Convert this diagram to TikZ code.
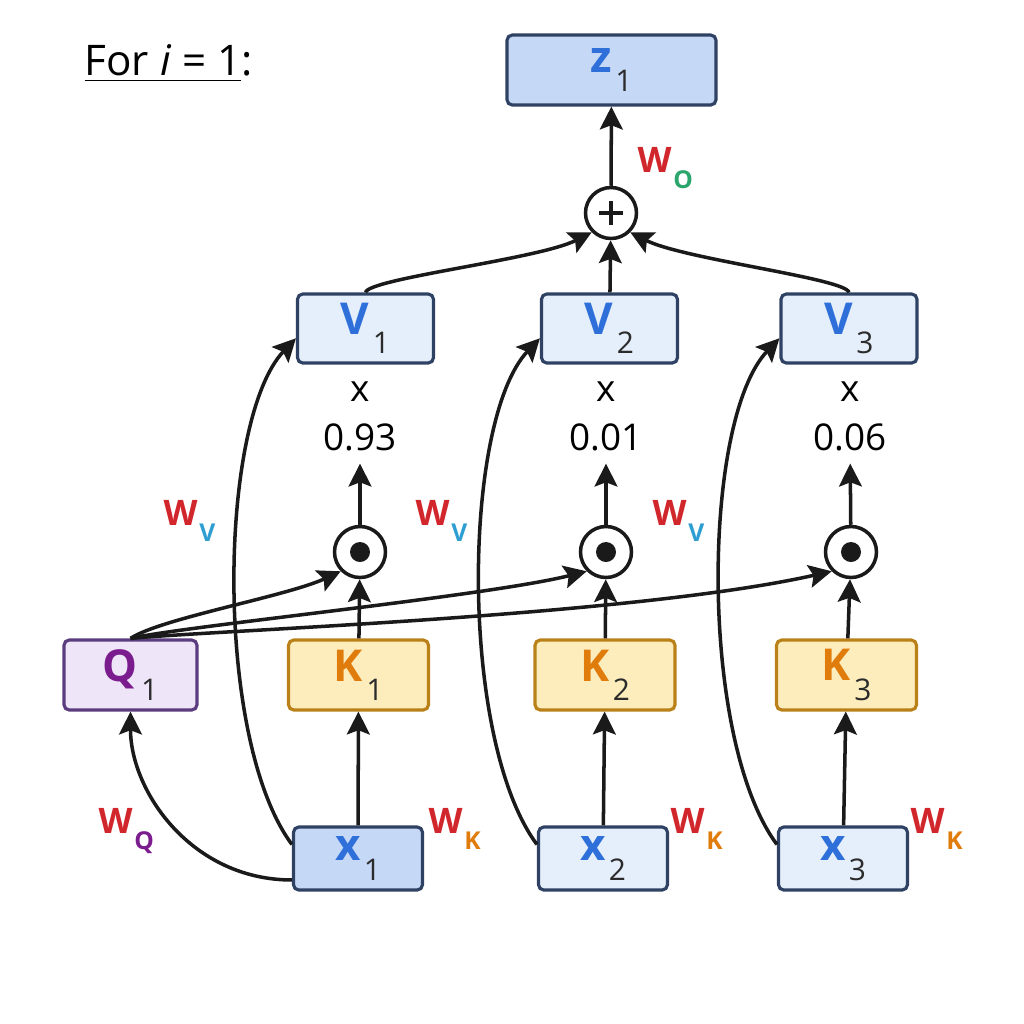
\documentclass[tikz,border=0pt]{standalone}
\usepackage{fontspec}
\setmainfont{Open Sans}
\usepackage{xcolor}
\usetikzlibrary{arrows.meta,positioning,calc}

\definecolor{zfill}{HTML}{C5D8F6}
\definecolor{vfill}{HTML}{E5EFFB}
\definecolor{boxline}{HTML}{2F4263}
\definecolor{qfill}{HTML}{EEE5F8}
\definecolor{qline}{HTML}{5B3C7E}
\definecolor{qtext}{HTML}{7A1C8E}
\definecolor{kfill}{HTML}{FDEDBD}
\definecolor{kline}{HTML}{B98118}
\definecolor{ktext}{HTML}{E07C0B}
\definecolor{btext}{HTML}{2F6FD9}
\definecolor{wred}{HTML}{D1262C}
\definecolor{vsub}{HTML}{2E9ED2}
\definecolor{osub}{HTML}{2AA56C}
\definecolor{subgray}{HTML}{2B2B2B}
\definecolor{linec}{HTML}{1A1A1A}

% box label: coloured letter, grey index set low
\newcommand{\boxlbl}[3]{{\bfseries\color{#1}#2}\kern1pt\raisebox{-5.5pt}{\fontsize{8.5}{9}\selectfont\mdseries\color{subgray}#3}}
% weight label: red W, coloured index
\newcommand{\wlbl}[2]{{\color{wred}W}\kern0.5pt\raisebox{-4.8pt}{\fontsize{7}{8}\selectfont\color{#1}#2}}

\begin{document}
\begin{tikzpicture}[
    box/.style={rectangle, draw=boxline, rounded corners=1.5pt, line width=0.9pt, inner sep=0pt, minimum height=0.70cm, font=\fontsize{12.5}{14}\selectfont},
    zbox/.style={box, fill=zfill, minimum width=2.09cm},
    vbox/.style={box, fill=vfill, minimum width=1.36cm, minimum height=0.69cm},
    qbox/.style={box, draw=qline, fill=qfill, minimum width=1.33cm},
    kbox/.style={box, draw=kline, fill=kfill, minimum width=1.40cm},
    xbox/.style={box, minimum width=1.29cm, minimum height=0.63cm},
    op/.style={circle, draw=linec, line width=1pt, fill=white, inner sep=0pt, minimum size=0.51cm},
    wt/.style={font=\fontsize{10.5}{12}\selectfont, inner sep=1pt},
    wlab/.style={anchor=base west, inner sep=0pt, font=\fontsize{10}{12}\selectfont\bfseries},
    arrow/.style={-{Stealth[length=6.5pt, width=6.5pt, inset=1.2pt]}, line width=1pt, draw=linec}
]
    \useasboundingbox (0,0) rectangle (10.24,-10.24);

    \node[anchor=base west, inner sep=0pt, font=\fontsize{12}{14}\selectfont] (title) at (0.84,-0.75) {\underline{For \textit{i} = 1}:};

    % output
    \node[zbox] (z1) at (6.115,-0.70) {\boxlbl{btext}{z}{1}};
    \node[op] (plus) at (6.11,-2.13) {};
    \draw[line width=1.2pt, linec] ([yshift=-0.12cm]plus.center) -- ([yshift=0.12cm]plus.center);
    \draw[line width=1.2pt, linec] ([xshift=-0.12cm]plus.center) -- ([xshift=0.12cm]plus.center);

    % values
    \node[vbox] (v1) at (3.655,-3.285) {\boxlbl{btext}{V}{1}};
    \node[vbox] (v2) at (6.095,-3.285) {\boxlbl{btext}{V}{2}};
    \node[vbox] (v3) at (8.49,-3.285) {\boxlbl{btext}{V}{3}};

    \node[wt] (m1) at (3.60,-3.92) {x};
    \node[wt] (m2) at (6.06,-3.92) {x};
    \node[wt] (m3) at (8.50,-3.92) {x};
    \node[wt] (a1) at (3.60,-4.37) {0.93};
    \node[wt] (a2) at (6.06,-4.37) {0.01};
    \node[wt] (a3) at (8.50,-4.37) {0.06};

    % scores
    \node[op] (dot1) at (3.60,-5.52) {};
    \node[op] (dot2) at (6.06,-5.52) {};
    \node[op] (dot3) at (8.51,-5.52) {};
    \fill[linec] (dot1) circle (0.1);
    \fill[linec] (dot2) circle (0.1);
    \fill[linec] (dot3) circle (0.1);

    % query and keys
    \node[qbox] (q1) at (1.305,-6.75) {\boxlbl{qtext}{Q}{1}};
    \node[kbox] (k1) at (3.585,-6.75) {\boxlbl{ktext}{K}{1}};
    \node[kbox] (k2) at (6.05,-6.75) {\boxlbl{ktext}{K}{2}};
    \node[kbox] (k3) at (8.465,-6.75) {\boxlbl{ktext}{K}{3}};

    % inputs
    \node[xbox, fill=zfill] (x1) at (3.58,-8.585) {\boxlbl{btext}{x}{1}};
    \node[xbox, fill=vfill] (x2) at (6.03,-8.585) {\boxlbl{btext}{x}{2}};
    \node[xbox, fill=vfill] (x3) at (8.43,-8.585) {\boxlbl{btext}{x}{3}};

    % weight matrices
    \node[wlab] (wo) at (6.37,-1.72) {\wlbl{osub}{O}};
    \node[wlab] (wv1) at (1.63,-5.25) {\wlbl{vsub}{V}};
    \node[wlab] (wv2) at (4.15,-5.25) {\wlbl{vsub}{V}};
    \node[wlab] (wv3) at (6.52,-5.25) {\wlbl{vsub}{V}};
    \node[wlab] (wq) at (0.98,-8.33) {\wlbl{qtext}{Q}};
    \node[wlab] (wk1) at (4.28,-8.33) {\wlbl{ktext}{K}};
    \node[wlab] (wk2) at (6.70,-8.33) {\wlbl{ktext}{K}};
    \node[wlab] (wk3) at (9.10,-8.33) {\wlbl{ktext}{K}};

    % connectors
    \draw[arrow] (plus) -- (z1);
    \draw[arrow] (v2) -- (plus);
    \draw[arrow] (v1.north) .. controls +(0.03,0.14) and +(-0.53,-0.27) .. (plus.south west);
    \draw[arrow] (v3.north) .. controls +(-0.03,0.14) and +(0.53,-0.27) .. (plus.south east);

    \draw[arrow, shorten >=2.5pt] (dot1) -- (a1);
    \draw[arrow, shorten >=2.5pt] (dot2) -- (a2);
    \draw[arrow, shorten >=2.5pt] (dot3) -- (a3);

    \draw[arrow] (k1) -- (dot1);
    \draw[arrow] (k2) -- (dot2);
    \draw[arrow] (k3) -- (dot3);

    \draw[arrow] (q1.north) .. controls +(0.3,0.2) and +(-0.54,-0.25) .. (dot1.south west);
    \draw[arrow] (q1.north) .. controls +(0.5,0.12) and +(-1.0,-0.25) .. (dot2.south west);
    \draw[arrow] (q1.north) .. controls +(0.8,0.08) and +(-2.0,-0.45) .. (dot3.south west);

    \draw[arrow] (x1) -- (k1);
    \draw[arrow] (x2) -- (k2);
    \draw[arrow] (x3) -- (k3);

    \draw[arrow] (x1.198) .. controls +(-1.0,0) and +(0,-0.8) .. (q1.south);
    \draw[arrow] (x1.168) .. controls +(-0.78,1.05) and +(-0.78,-0.82) .. (v1.188);
    \draw[arrow] (x2.168) .. controls +(-0.78,1.05) and +(-0.78,-0.82) .. (v2.188);
    \draw[arrow] (x3.168) .. controls +(-0.78,1.05) and +(-0.78,-0.82) .. (v3.188);
\end{tikzpicture}
\end{document}
